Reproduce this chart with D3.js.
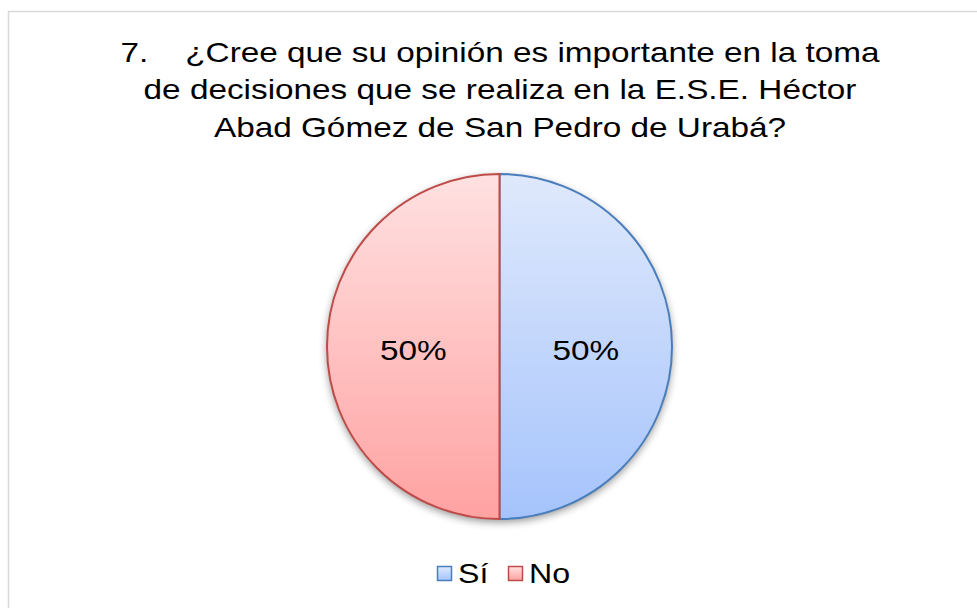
<!DOCTYPE html>
<html>
<head>
<meta charset="utf-8">
<script src="https://cdn.jsdelivr.net/npm/d3@7"></script>
<style>
  body { margin: 0; background: #fff; }
  text { font-family: "Liberation Sans", Arial, sans-serif; fill: #000; }
</style>
</head>
<body>
<script>
const categories = ['Sí', 'No'];
const values = [50, 50];
const titleLines = [
  '7.    ¿Cree que su opinión es importante en la toma',
  'de decisiones que se realiza en la E.S.E. Héctor',
  'Abad Gómez de San Pedro de Urabá?'
];

const W = 977, H = 608;
const cx = 499.5, cy = 346.5, r = 172.5;
const stretch = 1.19; // text in the source is drawn a bit wide

let svg = d3.select('body')
  .append('svg')
  .attr('width', W)
  .attr('height', H)
  .attr('style', 'display:block;');

// chart area border
svg.append('rect')
  .attr('x', 8.5).attr('y', 11.5)
  .attr('width', W + 10).attr('height', H + 10)
  .attr('fill', '#fff')
  .attr('stroke', '#d9d9d9')
  .attr('stroke-width', 1.5);

let defs = svg.append('defs');
const palette = [
  { top: '#dfe9fc', bot: '#a5c3fb', stroke: '#4a7ebb' },
  { top: '#ffe1e1', bot: '#ffa2a2', stroke: '#be4b48' }
];
palette.forEach((p, i) => {
  let g = defs.append('linearGradient')
    .attr('id', 'grad' + i)
    .attr('gradientUnits', 'userSpaceOnUse')
    .attr('x1', 0).attr('y1', -r).attr('x2', 0).attr('y2', r);
  g.append('stop').attr('offset', '0%').attr('stop-color', p.top);
  g.append('stop').attr('offset', '100%').attr('stop-color', p.bot);

  let lg = defs.append('linearGradient')
    .attr('id', 'lgrad' + i)
    .attr('x1', 0).attr('y1', 0).attr('x2', 0).attr('y2', 1);
  lg.append('stop').attr('offset', '0%').attr('stop-color', p.top);
  lg.append('stop').attr('offset', '100%').attr('stop-color', p.bot);
});
let f = defs.append('filter').attr('id', 'shadow')
  .attr('x', '-20%').attr('y', '-20%').attr('width', '140%').attr('height', '140%');
f.append('feGaussianBlur').attr('in', 'SourceAlpha').attr('stdDeviation', 4);
f.append('feOffset').attr('dx', 0).attr('dy', 3).attr('result', 'b');
f.append('feComponentTransfer').append('feFuncA').attr('type', 'linear').attr('slope', 0.45);
let m = f.append('feMerge');
m.append('feMergeNode');
m.append('feMergeNode').attr('in', 'SourceGraphic');

// title
svg.append('text')
  .attr('transform', `translate(500, 0) scale(${stretch}, 1)`)
  .attr('text-anchor', 'middle')
  .attr('font-size', 28)
  .style('white-space', 'pre')
  .selectAll('tspan')
  .data(titleLines)
  .enter()
    .append('tspan')
    .attr('x', 0)
    .attr('y', (d, i) => 62 + i * 37.5)
    .text(d => d);

// pie
let pie = d3.pie().sort(null).value(d => d.v);
let arc = d3.arc().innerRadius(0).outerRadius(r);
let data = pie(categories.map((c, i) => ({ c: c, v: values[i], i: i })));

let g = svg.append('g').attr('transform', `translate(${cx}, ${cy})`);
g.append('circle').attr('r', r).attr('fill', '#fff').attr('filter', 'url(#shadow)');

let slice = g.selectAll('.slice')
  .data(data)
  .enter()
    .append('g')
    .attr('class', 'slice');

slice.append('path')
  .attr('d', arc)
  .attr('fill', d => `url(#grad${d.data.i})`)
  .attr('stroke', d => palette[d.data.i].stroke)
  .attr('stroke-width', 2);

let labelArc = d3.arc().innerRadius(r * 0.5).outerRadius(r * 0.5);
slice.append('text')
  .attr('transform', d => {
    let c = labelArc.centroid(d);
    return `translate(${c[0]}, ${c[1] + 13}) scale(${stretch}, 1)`;
  })
  .attr('text-anchor', 'middle')
  .attr('font-size', 28)
  .text(d => d3.format('.0%')(d.data.v / d3.sum(values)));

// legend
const legX = [437, 508];
let leg = svg.selectAll('.legend')
  .data(categories)
  .enter()
    .append('g')
    .attr('class', 'legend')
    .attr('transform', (d, i) => `translate(${legX[i]}, 566)`);

leg.append('rect')
  .attr('x', 0.5).attr('y', 0.5)
  .attr('width', 14).attr('height', 14)
  .attr('fill', (d, i) => `url(#lgrad${i})`)
  .attr('stroke', (d, i) => palette[i].stroke)
  .attr('stroke-width', 1.5);

leg.append('text')
  .attr('transform', `translate(21, 17) scale(${stretch}, 1)`)
  .attr('font-size', 27)
  .text(d => d);
</script>
</body>
</html>
